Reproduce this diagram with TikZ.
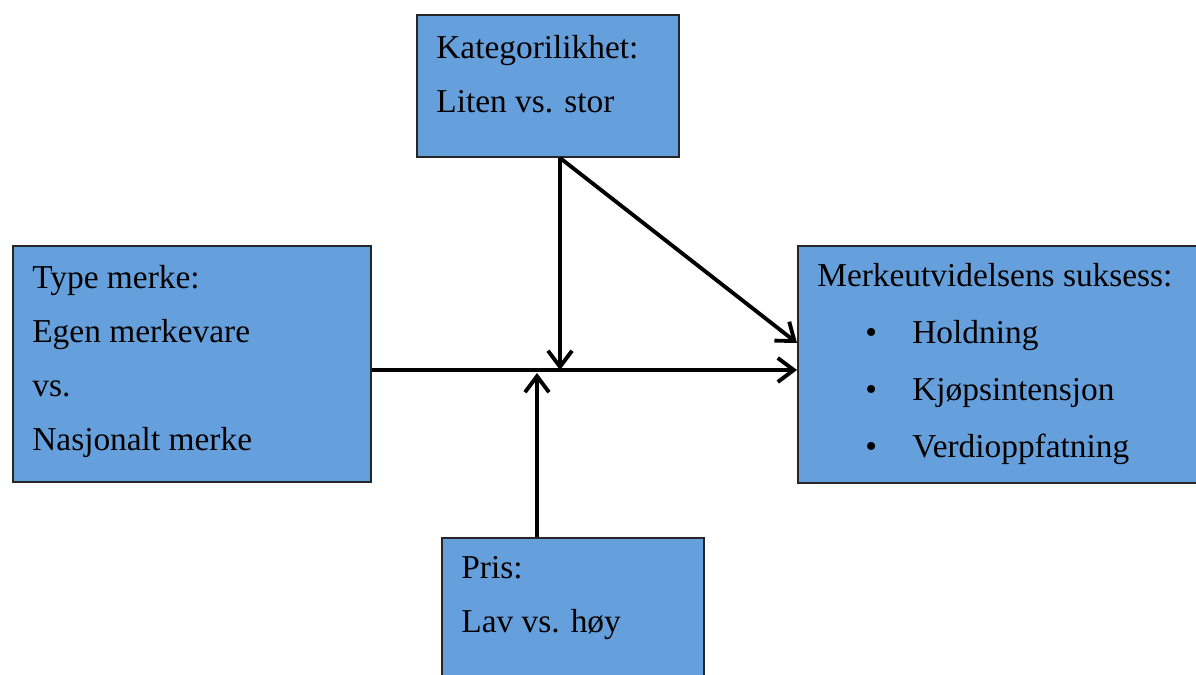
\documentclass[tikz,border=0pt]{standalone}
\usepackage{fontspec}
\setmainfont{Liberation Serif}
\usetikzlibrary{arrows.meta, positioning}

\definecolor{boxblue}{RGB}{102,160,220}

\begin{document}
\begin{tikzpicture}[
            x=0.02cm, y=-0.02cm,
            factor/.style={rectangle, draw=black!85, fill=boxblue, line width=1.1pt, inner sep=0pt},
            txt/.style={anchor=north west, inner sep=0pt, align=left, font=\fontsize{19}{30.7}\selectfont},
            link/.style={draw, line width=2.2pt, -{Straight Barb[length=0.32cm, width=0.48cm]}}
        ]

            \useasboundingbox (0,0) rectangle (1196,675);

            % Boxes
            \node[factor, minimum width=262*0.02cm, minimum height=142*0.02cm, anchor=north west] (kat) at (416,14) {};
            \node[factor, minimum width=358*0.02cm, minimum height=236*0.02cm, anchor=north west] (type) at (12,245) {};
            \node[factor, minimum width=440*0.02cm, minimum height=237*0.02cm, anchor=north west] (suk) at (797,245) {};
            \node[factor, minimum width=262*0.02cm, minimum height=160*0.02cm, anchor=north west] (pris) at (441,537) {};

            % Texts
            \node[txt] (katT) at (436,35) {Kategorilikhet:\\Liten vs. stor};
            \node[txt] (typeT) at (32,265) {Type merke:\\Egen merkevare\\vs.\\Nasjonalt merke};
            \node[txt, font=\fontsize{19}{32.5}\selectfont] (sukT) at (817,263) {Merkeutvidelsens suksess:\\
                \hspace*{0.96cm}\makebox[0.94cm][l]{\textbullet}Holdning\\
                \hspace*{0.96cm}\makebox[0.94cm][l]{\textbullet}Kjøpsintensjon\\
                \hspace*{0.96cm}\makebox[0.94cm][l]{\textbullet}Verdioppfatning};
            \node[txt] (prisT) at (461,556) {Pris:\\Lav vs. høy};

            % Meeting points
            \coordinate (meet) at (560,370);
            \coordinate (up) at (537,373);
            \coordinate (diag) at (797,343);

            % Arrows
            \draw[link] (kat.south -| meet) -- (meet);
            \draw[link] (kat.south -| meet) -- (diag);
            \draw[link] (type.east |- meet) -- (suk.west |- meet);
            \draw[link] (pris.north -| up) -- (up);

        \end{tikzpicture}
\end{document}
